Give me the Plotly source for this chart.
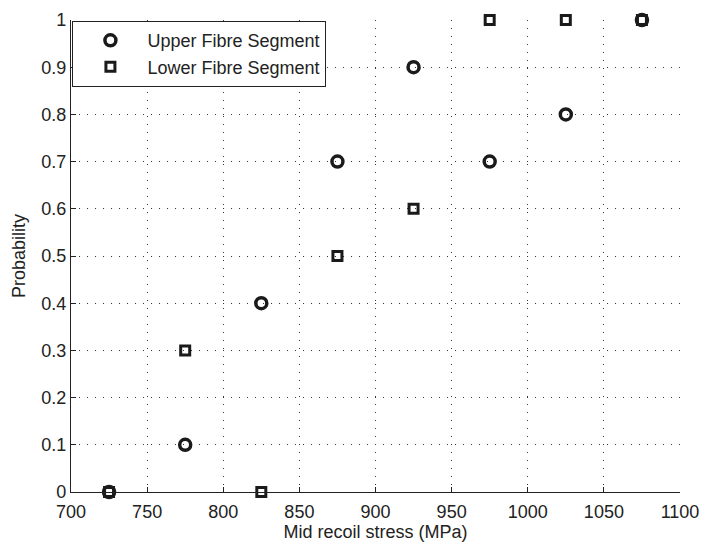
import plotly.graph_objects as go

stress = [725, 775, 825, 875, 925, 975, 1025, 1075]
upper = [0.0, 0.1, 0.4, 0.7, 0.9, 0.7, 0.8, 1.0]
lower = [0.0, 0.3, 0.0, 0.5, 0.6, 1.0, 1.0, 1.0]
x_ticks = [700, 750, 800, 850, 900, 950, 1000, 1050, 1100]
y_ticks = [0, 0.1, 0.2, 0.3, 0.4, 0.5, 0.6, 0.7, 0.8, 0.9, 1.0]

fig = go.Figure()
fig.add_trace(go.Scatter(x=stress, y=upper, mode="markers", name="Upper Fibre Segment",
                         marker=dict(symbol="circle-open", size=11, color="#1a1a1a",
                                     line=dict(width=3.5, color="#1a1a1a")), cliponaxis=False))
fig.add_trace(go.Scatter(x=stress, y=lower, mode="markers", name="Lower Fibre Segment",
                         marker=dict(symbol="square-open", size=9, color="#1a1a1a",
                                     line=dict(width=3, color="#1a1a1a")), cliponaxis=False))

fam = "Liberation Sans, Arial, Helvetica, sans-serif"
font = dict(family=fam, size=18, color="#222")
axis_common = dict(showgrid=True, gridcolor="#333", griddash="1px,7px", gridwidth=1,
                   showline=True, linecolor="#222", linewidth=1.2, ticks="inside",
                   ticklen=5, tickcolor="#222", zeroline=False, mirror=False,
                   tickfont=font)
fig.update_layout(
    width=709, height=544, margin=dict(l=71, r=20, t=10, b=52),
    plot_bgcolor="white", paper_bgcolor="white", font=font,
    showlegend=True,
    legend=dict(x=0.002, y=0.998, xanchor="left", yanchor="top", bgcolor="white",
                bordercolor="#222", borderwidth=1.2, font=dict(size=18, family=fam, color="#222"),
                itemwidth=64, tracegroupgap=0),
    xaxis=dict(range=[700, 1100], tickvals=x_ticks, ticktext=[str(v) for v in x_ticks],
               ticklabelstandoff=3,
               title=dict(text="Mid recoil stress (MPa)", font=font, standoff=0), **axis_common),
    yaxis=dict(range=[0, 1], tickvals=y_ticks, ticktext=["0"] + [f"{v:g}" for v in y_ticks[1:-1]] + ["1"],
               title=dict(text="Probability", font=font, standoff=10), **axis_common),
)
fig.write_html("out.html")
